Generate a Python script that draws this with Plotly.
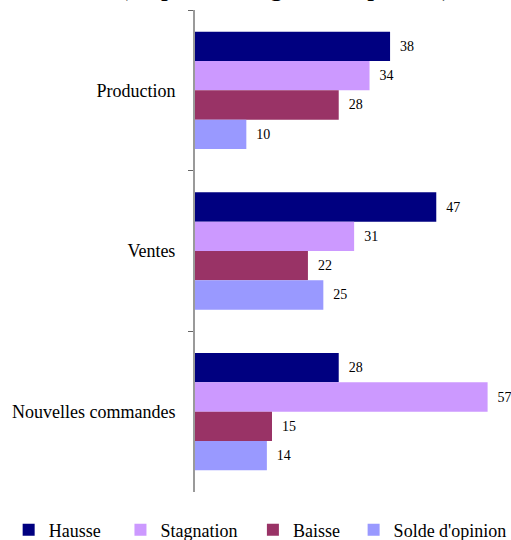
import plotly.graph_objects as go

categories = ["Production", "Ventes", "Nouvelles commandes"]
series_names = ["Hausse", "Stagnation", "Baisse", "Solde d'opinion"]
hausse = [38, 47, 28]
stagnation = [34, 31, 57]
baisse = [28, 22, 15]
solde = [10, 25, 14]
values = [hausse, stagnation, baisse, solde]
colors = ["#000080", "#CC99FF", "#993366", "#9999FF"]

FONT = "Liberation Serif"
legend_ids = ["legend", "legend2", "legend3", "legend4"]
legend_x = [-0.605, -0.242, 0.188, 0.515]

fig = go.Figure()
for name, vals, col, lid in zip(series_names, values, colors, legend_ids):
    fig.add_trace(go.Bar(
        y=categories, x=vals, name=name, orientation="h",
        marker=dict(color=col, line=dict(width=0)),
        text=vals, texttemplate="\u2002%{x}", textposition="outside",
        textfont=dict(family=FONT, size=14, color="#000000"),
        cliponaxis=False, legend=lid,
    ))

layout_legends = {}
for lid, lx in zip(legend_ids, legend_x):
    layout_legends[lid] = dict(
        x=lx, y=-0.079, xanchor="left", yanchor="middle",
        orientation="h", font=dict(family=FONT, size=18, color="#000000"),
        bgcolor="rgba(0,0,0,0)", itemwidth=30, tracegroupgap=0,
    )

fig.update_layout(
    width=511, height=540,
    margin=dict(l=195, r=8, t=10, b=48, autoexpand=False),
    paper_bgcolor="white", plot_bgcolor="white",
    barmode="group", bargap=0.27, bargroupgap=0,
    showlegend=True,
    font=dict(family=FONT, size=18, color="#000000"),
    xaxis=dict(range=[0, 60], showticklabels=False, showgrid=False,
               zeroline=False, showline=False, ticks="", automargin=False),
    yaxis=dict(autorange="reversed", showgrid=False, zeroline=False,
               showline=True, linecolor="#9a9a9a", linewidth=2,
               ticks="outside", tickson="boundaries", ticklen=5,
               tickcolor="#666666", tickwidth=1, automargin=False,
               ticklabelstandoff=14,
               tickfont=dict(family=FONT, size=18, color="#000000")),
    annotations=[dict(
        text="(en pourcentage des réponses)", xref="paper", yref="paper",
        x=0.292, y=1.0, xanchor="center", yanchor="bottom", yshift=7,
        showarrow=False, font=dict(family=FONT, size=27.5, color="#000000"),
    )],
    **layout_legends,
)

fig.write_html("out.html", config={"displayModeBar": False},
               post_script="document.body.style.margin='0';")
